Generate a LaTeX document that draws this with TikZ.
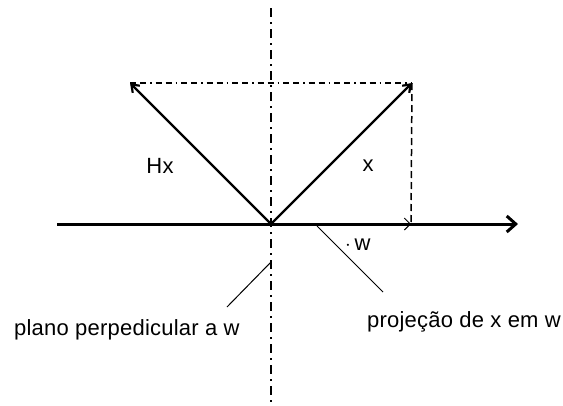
\documentclass[tikz,border=0pt]{standalone}
\usepackage{fontspec}
\setmainfont{Liberation Sans}
\usetikzlibrary{arrows.meta}
\begin{document}
\begin{tikzpicture}[x=1pt,y=-1pt,
  lbl/.style={inner sep=0pt, font=\fontsize{22}{25}\selectfont\addfontfeature{LetterSpace=1}},
  axisline/.style={line width=3pt, -{Straight Barb[length=9pt,width=16pt,line width=3pt]}},
  vecline/.style={line width=2.2pt, -{Straight Barb[length=7pt,width=10pt,line width=2.2pt]}},
  projline/.style={line width=1pt, -{Straight Barb[length=6pt,width=12pt,line width=1pt]}},
  dashdot/.style={line width=1.5pt, dash pattern={on 6pt off 4pt on 6pt off 4pt on 1.5pt off 4pt}},
  vdashdot/.style={line width=1.8pt, dash pattern={on 9pt off 5pt on 2pt off 5pt}},
  dashline/.style={line width=1.5pt, dash pattern={on 7pt off 4pt}},
  leader/.style={line width=1pt}]
\useasboundingbox (0,0) rectangle (563,405);
% coordinates
\coordinate (O) at (271,224);
\coordinate (A) at (57,224);
\coordinate (B) at (518,224);
\coordinate (H) at (130,83);
\coordinate (X) at (412,83);
\coordinate (P) at (411,224);
\coordinate (V1) at (271,8);
\coordinate (V2) at (271,402);
\coordinate (L1a) at (317,226);
\coordinate (L1b) at (383,292);
\coordinate (L2a) at (227,307);
\coordinate (L2b) at (271,262);
% plane (dash-dot vertical)
\draw[vdashdot] (V1) -- (V2);
% guides
\draw[dashdot] (H) -- (X);
\draw[dashline] (X) -- (P);
% axis w
\draw[axisline] (A) -- (B);
% projection
\draw[projline] (O) -- (P);
% vectors
\draw[vecline] (O) -- (H);
\draw[vecline] (O) -- (X);
% leaders
\draw[leader] (L1a) -- (L1b);
\draw[leader] (L2a) -- (L2b);
% labels
\node[lbl] (hx) at (160,166) {Hx};
\node[lbl] (xl) at (368,166) {x};
\node[lbl, anchor=west] (wl) at (345,245) {$\cdot$\,w};
\node[lbl, anchor=east] (proj) at (561,322) {projeção de x em w};
\node[lbl, anchor=west] (plano) at (14,330) {plano perpedicular a w};
\end{tikzpicture}
\end{document}
